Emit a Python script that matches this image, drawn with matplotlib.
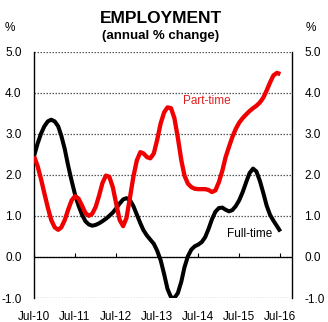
import matplotlib
matplotlib.use("Agg")
import matplotlib.pyplot as plt
import pandas as pd

plt.rcParams['font.family'] = ['Liberation Sans', 'DejaVu Sans']

# Monthly observations, Jul-2010 to Jul-2016
dates = pd.date_range('2010-07-01', periods=73, freq='MS')

full_time = [2.45, 2.75, 3.00, 3.18, 3.30, 3.34, 3.30, 3.18, 2.95, 2.62,
             2.22, 1.85, 1.52, 1.25, 1.03, 0.87, 0.79, 0.76, 0.78, 0.82,
             0.87, 0.93, 1.00, 1.08, 1.18, 1.30, 1.40, 1.43, 1.38, 1.24,
             1.03, 0.82, 0.65, 0.52, 0.42, 0.32, 0.15, -0.08, -0.42, -0.78,
             -0.98, -1.00, -0.88, -0.60, -0.25, 0.02, 0.18, 0.26, 0.30, 0.36,
             0.48, 0.68, 0.92, 1.10, 1.19, 1.20, 1.15, 1.11, 1.14, 1.24,
             1.38, 1.58, 1.82, 2.04, 2.15, 2.08, 1.85, 1.55, 1.25, 1.02,
             0.88, 0.75, 0.62]

part_time = [2.45, 2.22, 1.90, 1.55, 1.20, 0.90, 0.72, 0.66, 0.72, 0.90,
             1.15, 1.38, 1.48, 1.42, 1.25, 1.07, 1.00, 1.05, 1.22, 1.50,
             1.80, 1.98, 1.95, 1.70, 1.30, 0.90, 0.75, 0.95, 1.45, 1.95,
             2.35, 2.55, 2.52, 2.43, 2.40, 2.52, 2.85, 3.25, 3.52, 3.64,
             3.62, 3.38, 2.90, 2.35, 1.98, 1.78, 1.70, 1.66, 1.65, 1.65,
             1.65, 1.63, 1.58, 1.62, 1.82, 2.10, 2.42, 2.68, 2.92, 3.12,
             3.27, 3.38, 3.47, 3.55, 3.62, 3.68, 3.76, 3.88, 4.05, 4.25,
             4.42, 4.48, 4.45]

tick_dates = pd.date_range('2010-07-01', periods=7, freq='12MS')
tick_labels = ['Jul-10', 'Jul-11', 'Jul-12', 'Jul-13', 'Jul-14', 'Jul-15', 'Jul-16']
y_ticks = [-1.0, 0.0, 1.0, 2.0, 3.0, 4.0, 5.0]

fig = plt.figure(figsize=(3.28, 3.22), dpi=100)
ax = fig.add_axes([0.1037, 0.0745, 0.7863, 0.7655])

ax.plot(dates, full_time, color='black', lw=2.9, solid_joinstyle='round',
        solid_capstyle='butt', zorder=3)
ax.plot(dates, part_time, color='#f00000', lw=3.1, solid_joinstyle='round',
        solid_capstyle='butt', zorder=4)

ax.set_ylim(-1.0, 5.0)
ax.set_xlim(pd.Timestamp('2010-07-01'), pd.Timestamp('2016-10-12'))

# y axis: labels both sides, dotted gridlines, solid zero line
ax.set_yticks(y_ticks)
ax.set_yticklabels([f'{v:.1f}' for v in y_ticks])
ax.tick_params(axis='y', length=0, pad=9, labelsize=8.5, labelright=True,
               labelleft=True)
ax.grid(axis='y', linestyle=(0, (1.2, 1.2)), color='#555555', lw=0.9)
ax.axhline(0, color='black', lw=0.9, zorder=2)

for side in ('top', 'bottom'):
    ax.spines[side].set_visible(False)
for side in ('left', 'right'):
    ax.spines[side].set_linewidth(1.0)

# x axis labels at the bottom, tick marks on the zero line
ax.set_xticks(tick_dates)
ax.set_xticklabels(tick_labels)
ax.tick_params(axis='x', length=0, pad=9, labelsize=8.5)

zero_axis = ax.secondary_xaxis(1.0 / 6.0)
zero_axis.set_xticks(tick_dates)
zero_axis.tick_params(axis='x', direction='in', length=3, width=0.8,
                      labelbottom=False, labeltop=False)
zero_axis.spines['bottom'].set_visible(False)
zero_axis.spines['top'].set_visible(False)

ax.text(pd.Timestamp('2014-09-12'), 3.79, 'Part-time', color='#e02020',
        fontsize=8.5, ha='center', va='center')
ax.text(pd.Timestamp('2015-10-05'), 0.55, 'Full-time', color='black',
        fontsize=8.5, ha='center', va='center')

fig.text(0.49, 0.944, 'EMPLOYMENT', fontsize=12.5, fontweight='bold',
         ha='center', va='center')
fig.text(0.49, 0.888, '(annual % change)', fontsize=9.5, fontweight='bold',
         ha='center', va='center')
fig.text(0.03, 0.913, '%', fontsize=8.5, ha='center', va='center')
fig.text(0.948, 0.913, '%', fontsize=8.5, ha='center', va='center')

fig.savefig('out.png', dpi=100)
